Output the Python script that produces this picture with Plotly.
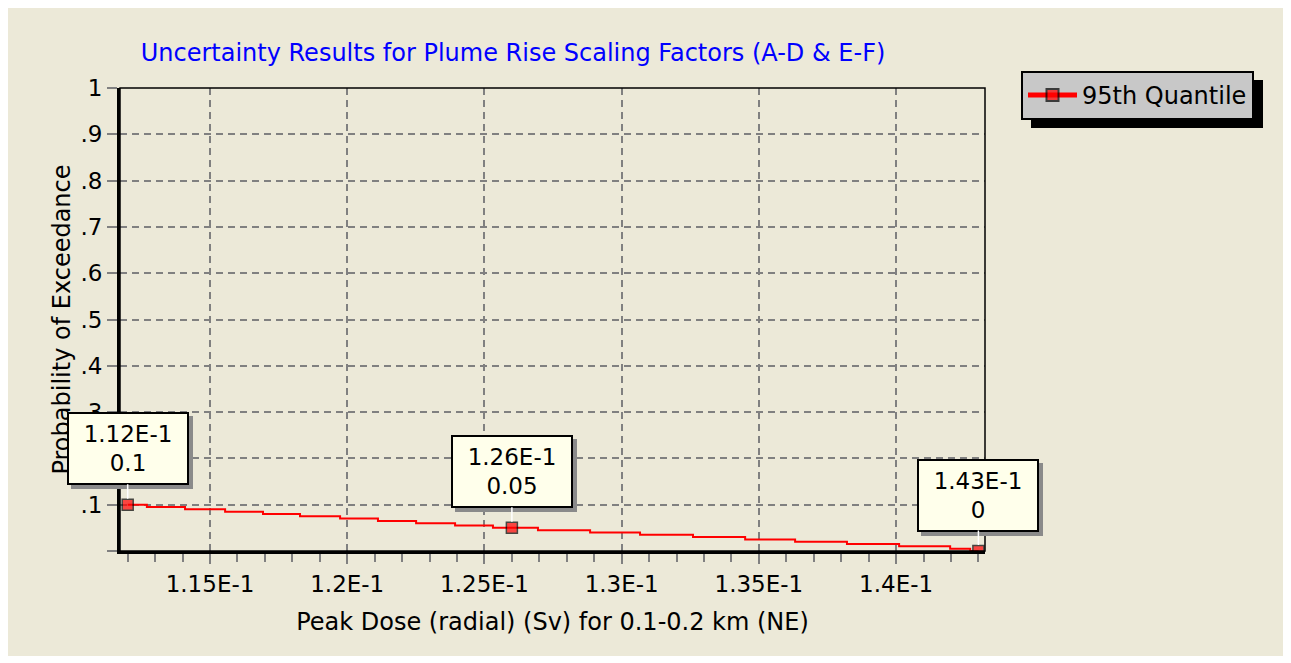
import plotly.graph_objects as go

# ---- data ----
dose = [0.1120, 0.11270, 0.11409, 0.11555, 0.11693, 0.11828, 0.11974, 0.12112,
        0.12251, 0.12393, 0.12531, 0.1260, 0.12695, 0.12885, 0.13067, 0.13260,
        0.13450, 0.13632, 0.13821, 0.14011, 0.14197, 0.14270, 0.1430]
prob = [0.100, 0.095, 0.090, 0.085, 0.080, 0.075, 0.070, 0.065,
        0.060, 0.055, 0.050, 0.050, 0.045, 0.040, 0.035, 0.030,
        0.025, 0.020, 0.015, 0.010, 0.005, 0.000, 0.000]
labeled_idx = [0, 11, 22]
label_text = ["1.12E-1<br>0.1", "1.26E-1<br>0.05", "1.43E-1<br>0"]

x_tickvals = [0.115, 0.120, 0.125, 0.130, 0.135, 0.140]
x_ticktext = ["1.15E-1", "1.2E-1", "1.25E-1", "1.3E-1", "1.35E-1", "1.4E-1"]
y_tickvals = [0, 0.1, 0.2, 0.3, 0.4, 0.5, 0.6, 0.7, 0.8, 0.9, 1.0]
y_ticktext = ["", ".1", ".2", ".3", ".4", ".5", ".6", ".7", ".8", ".9", "1"]

series_name = "95th Quantile"
title_text = "Uncertainty Results for Plume Rise Scaling Factors (A-D & E-F)"
x_title = "Peak Dose (radial) (Sv) for 0.1-0.2 km (NE)"
y_title = "Probability of Exceedance"

# ---- layout geometry (screen pixels of the reference; page has 8px body margin) ----
OFF = 8
W, H = 1277, 648
L, R, T, B = 120 - OFF, 985 - OFF, 88 - OFF, 551 - OFF
PW, PH = R - L, B - T

def px_x(p):          # reference screen x -> paper
    return (p - OFF - L) / PW

def px_y(p):          # reference screen y -> paper
    return (B - (p - OFF)) / PH

FONT = "DejaVu Sans"
FS_TICK = 23
FS_TITLE = 24
BG = "#ECE9D8"

msize = [11 if i in labeled_idx else 0 for i in range(len(dose))]
mlw = [1.5 if i in labeled_idx else 0 for i in range(len(dose))]

fig = go.Figure()
fig.add_trace(go.Scatter(
    x=dose, y=prob, mode="lines+markers", name=series_name,
    line=dict(color="#FF0000", width=2, shape="hv"),
    marker=dict(symbol="square", size=msize, color="#FF0000",
                line=dict(color="black", width=mlw)),
    hoverinfo="skip",
))

annotations = []
for k, i in enumerate(labeled_idx):
    common = dict(x=dose[i], y=prob[i], xref="x", yref="y", text=label_text[k],
                  showarrow=True, arrowhead=0, ax=0, ay=-56, width=116, height=67,
                  borderpad=1, borderwidth=2, align="center", standoff=6)
    annotations.append(dict(common, bgcolor="#8A8A8A", bordercolor="#8A8A8A",
                            font=dict(family=FONT, size=FS_TICK, color="#8A8A8A"),
                            arrowcolor="rgba(0,0,0,0)", xshift=4, yshift=-4))
    annotations.append(dict(common, bgcolor="#FFFFEB", bordercolor="black",
                            font=dict(family=FONT, size=FS_TICK, color="black"),
                            arrowcolor="white", arrowwidth=1.5))

shapes = [
    # thin frame top/right
    dict(type="rect", xref="paper", yref="paper",
         x0=0, x1=1, y0=0, y1=1, line=dict(color="black", width=1.5)),
    # legend shadow
    dict(type="rect", xref="paper", yref="paper", layer="below",
         x0=px_x(1031), x1=px_x(1263), y0=px_y(128), y1=px_y(80),
         fillcolor="black", line=dict(width=0)),
]

fig.update_layout(
    width=W, height=H,
    margin=dict(l=L, r=W - R, t=T, b=H - B, autoexpand=False),
    paper_bgcolor=BG, plot_bgcolor=BG,
    font=dict(family=FONT, size=FS_TICK, color="black"),
    title=dict(text=title_text, x=px_x(513), xref="paper", xanchor="center",
               y=1 - (53 - OFF) / H, yref="container", yanchor="middle",
               font=dict(family=FONT, size=FS_TITLE, color="#0000FF")),
    showlegend=True,
    legend=dict(x=px_x(1021), y=px_y(71), xanchor="left", yanchor="top",
                bgcolor="#C8C8C8", bordercolor="black", borderwidth=2,
                itemsizing="constant", itemwidth=49,
                font=dict(family=FONT, size=FS_TITLE, color="black")),
    annotations=annotations,
    shapes=shapes,
)

fig.update_xaxes(
    range=[0.11172, 0.14324], tickvals=x_tickvals, ticktext=x_ticktext,
    showgrid=True, gridcolor="#808080", gridwidth=1.5, griddash="7px,5px",
    showline=True, linecolor="black", linewidth=3,
    ticks="outside", ticklen=10, tickwidth=1.5, tickcolor="#808080",
    minor=dict(dtick=0.001, tick0=0.115, ticks="outside", ticklen=8, tickwidth=1.5,
               tickcolor="#808080", showgrid=False),
    zeroline=False,
    title=dict(text=x_title, font=dict(family=FONT, size=FS_TITLE), standoff=18),
)
fig.update_yaxes(
    range=[0, 1], tickvals=y_tickvals, ticktext=y_ticktext,
    showgrid=True, gridcolor="#808080", gridwidth=1.5, griddash="7px,5px",
    showline=True, linecolor="black", linewidth=3,
    ticks="outside", ticklen=10, tickwidth=1.5, tickcolor="#808080",
    zeroline=False,
    title=dict(text=y_title, font=dict(family=FONT, size=FS_TITLE), standoff=4),
)

fig.write_html("out.html")
